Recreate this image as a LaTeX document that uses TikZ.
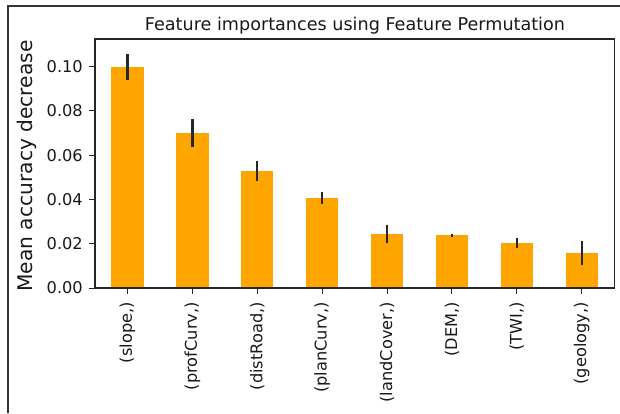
\documentclass[tikz,border=0pt]{standalone}
\usepackage{fontspec}
\setmainfont{DejaVu Sans}
\definecolor{barorange}{HTML}{FFA500}
\definecolor{darkline}{HTML}{262626}
\begin{document}
\begin{tikzpicture}[x=1pt,y=1pt,
  framestyle/.style={draw=black!80, line width=1.4pt},
  spine/.style={draw=black!85, line width=1.1pt},
  barfill/.style={fill=barorange},
  errbar/.style={draw=darkline, line width=2.4pt},
  tickline/.style={draw=black!85, line width=1pt},
  ticklab/.style={font=\fontsize{16.2}{18}\selectfont, inner sep=0pt, text=black!90},
  titlestyle/.style={font=\fontsize{17.6}{20}\selectfont, inner sep=0pt, text=black!90},
  ylabstyle/.style={font=\fontsize{20.2}{22}\selectfont, inner sep=0pt, text=black!90, rotate=90}]
\useasboundingbox (0,0) rectangle (620,413);
\fill[white] (0,0) rectangle (620,413);
\draw[framestyle] (8,0) -- (8,407) -- (620,407);
\node[titlestyle] (title) at (355,387) {Feature importances using Feature Permutation};
\node[ylabstyle] (ylab) at (27,247) {Mean accuracy decrease};
\begin{scope}[shift={(95,125)}, x=64.9pt, y=2215pt]
  \foreach \v/\e/\n [count=\i from 0] in {0.0998/0.0060/slope, 0.0700/0.0063/profCurv, 0.0528/0.0045/distRoad, 0.0406/0.0029/planCurv, 0.0244/0.0042/landCover, 0.0239/0.0007/DEM, 0.0203/0.0021/TWI, 0.0158/0.0052/geology} {
    \fill[barfill] (\i+0.25,0) rectangle (\i+0.75,\v);
    \draw[errbar] (\i+0.5,\v-\e) -- (\i+0.5,\v+\e);
    \coordinate (xt\i) at (\i+0.5,0);
    \draw[tickline] (xt\i) -- ++(0,-6pt);
    \node[ticklab, rotate=90, anchor=east] (xl\i) at ([yshift=-14pt]xt\i) {(\n,)};
  }
  \foreach \t/\lab [count=\j from 0] in {0/0.00, 0.02/0.02, 0.04/0.04, 0.06/0.06, 0.08/0.08, 0.10/0.10} {
    \coordinate (yt\j) at (0,\t);
    \draw[tickline] (yt\j) -- ++(-6pt,0);
    \node[ticklab, anchor=east] (yl\j) at ([xshift=-12pt]yt\j) {\lab};
  }
  \coordinate (bl) at (0,0);
  \coordinate (tr) at (8,0.1124);
  \draw[spine] (bl) rectangle (tr);
\end{scope}
\end{tikzpicture}
\end{document}
